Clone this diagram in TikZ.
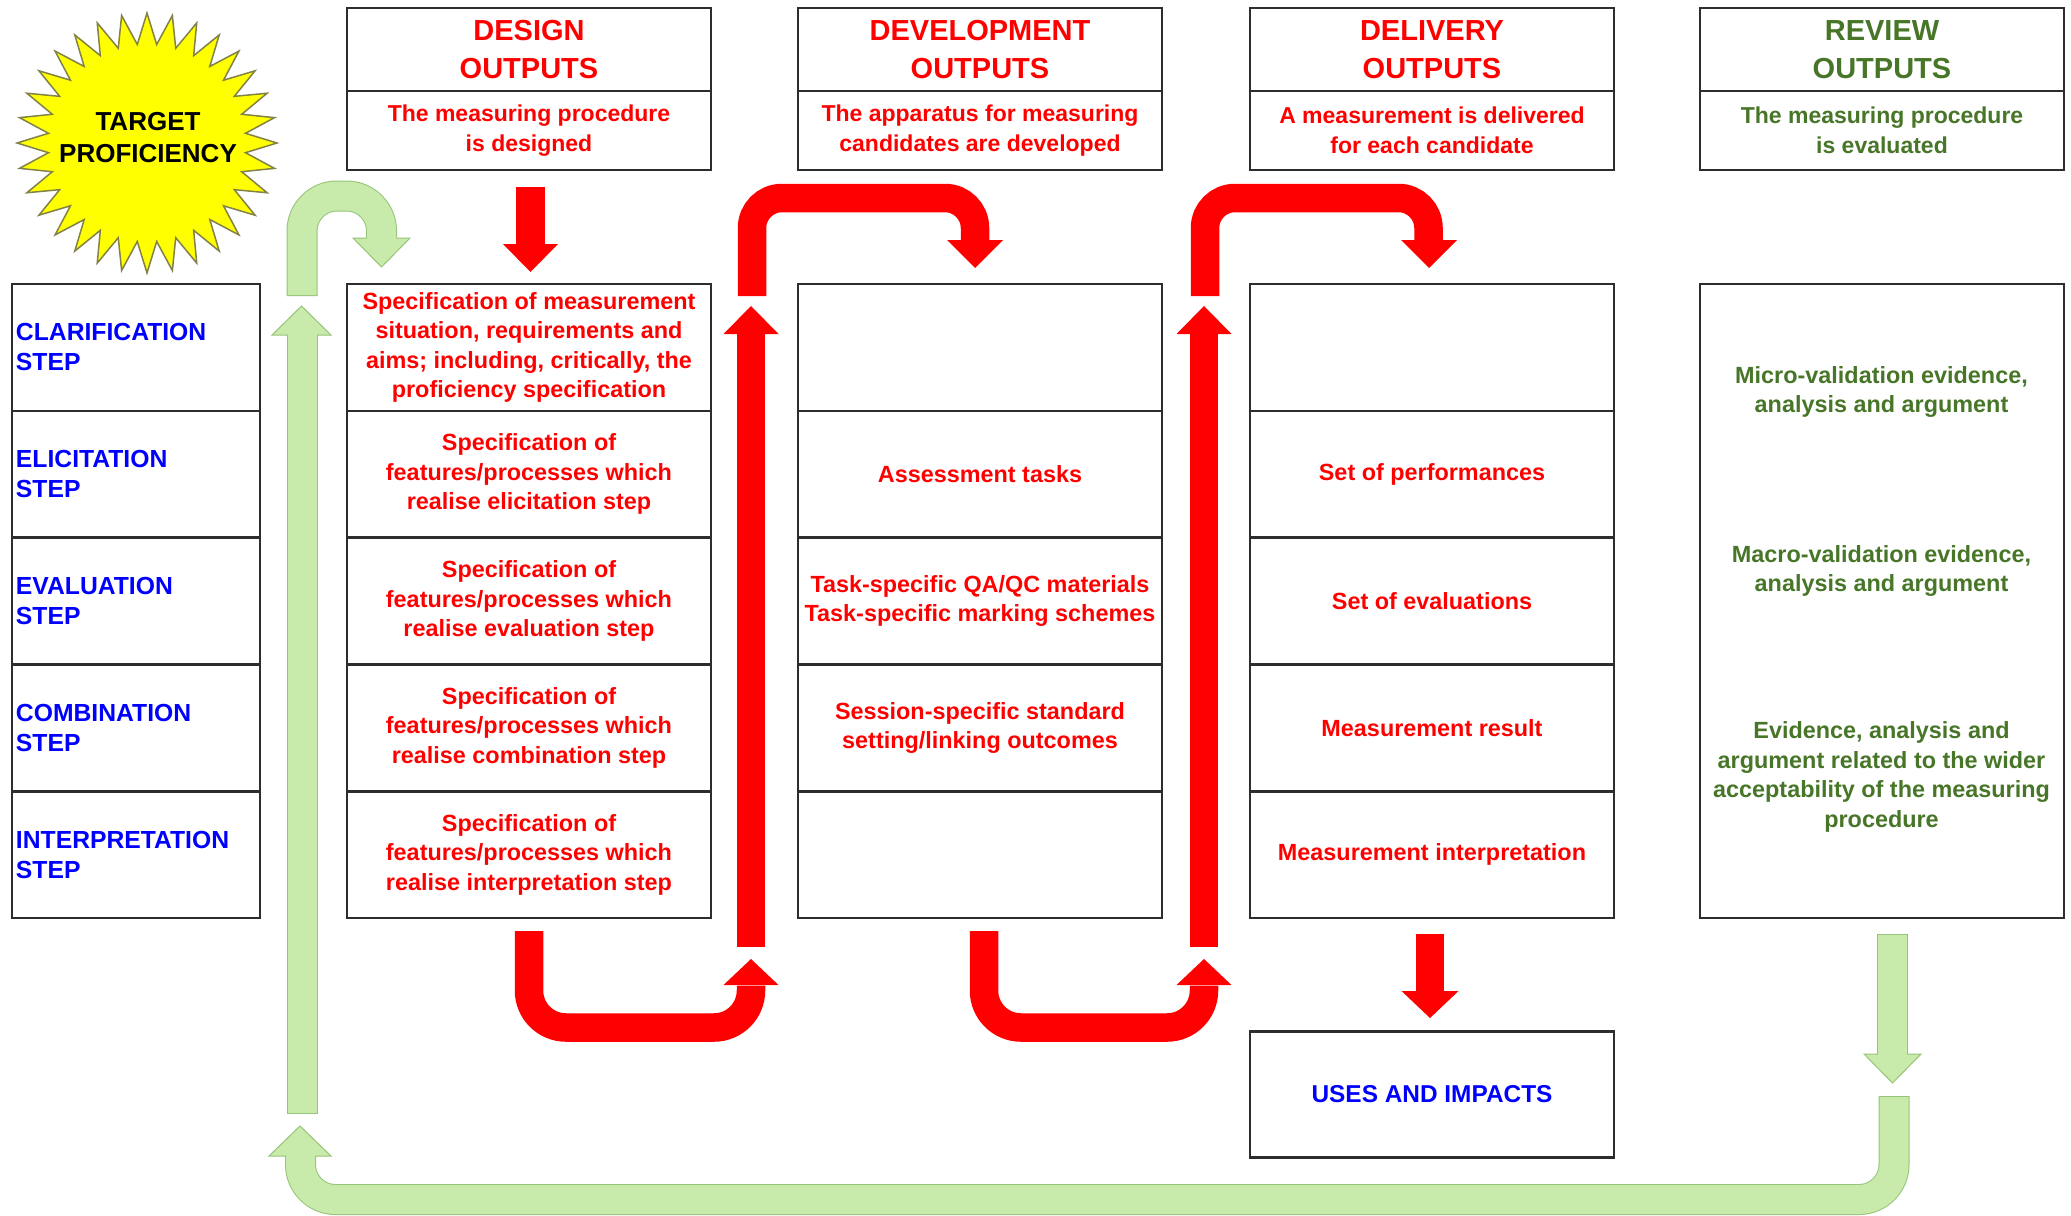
\documentclass[tikz,border=0pt]{standalone}
\usepackage{fontspec}
\setmainfont{Liberation Sans}
\usetikzlibrary{calc}
\definecolor{boxline}{RGB}{45,45,45}
\definecolor{txtred}{RGB}{255,0,0}
\definecolor{txtblue}{RGB}{0,0,255}
\definecolor{txtgreen}{RGB}{72,118,40}
\definecolor{gfill}{RGB}{200,234,170}
\definecolor{gline}{RGB}{150,196,120}
\definecolor{staryellow}{RGB}{255,255,0}
\definecolor{starline}{RGB}{130,130,70}
\definecolor{rfill}{RGB}{255,0,0}
\begin{document}
\begin{tikzpicture}[x=1pt,y=-1pt,
  bodyfont/.style={font=\bfseries\fontsize{23.4}{29.5}\selectfont},
  cell/.style={draw=boxline, line width=2.6pt, minimum width=364pt, minimum height=126.8pt,
    inner sep=0pt, outer sep=0pt, anchor=north west, align=center, text=txtred, bodyfont},
  hdr/.style={cell, minimum height=83pt, font=\bfseries\fontsize{29}{38}\selectfont},
  hsub/.style={cell, minimum height=79pt, font=\bfseries\fontsize{23}{29.5}\selectfont},
  stepcell/.style={draw=boxline, line width=2.6pt, text width=240pt, inner xsep=4pt, inner ysep=0pt,
    minimum height=126.8pt, outer sep=0pt, anchor=north west, align=left, text=txtblue,
    font=\bfseries\fontsize{24.7}{30}\selectfont},
  rtxt/.style={align=center, text=txtgreen, bodyfont, inner sep=0pt},
  rshaft/.style={draw=rfill, line width=28.5pt},
  rhead/.style={fill=rfill},
  gborder/.style={draw=gline, line width=31pt},
  gshaft/.style={draw=gfill, line width=29pt},
  ghead/.style={fill=gfill, draw=gline, line width=1pt, line join=miter},
]
\useasboundingbox (0,0) rectangle (2071,1215);
\fill[white] (0,0) rectangle (2071,1215);

% ---- star
\begin{scope}[shift={(147,143)}]
\draw[fill=staryellow, draw=starline, line width=1.5pt, line join=miter]
  (90:130) \foreach \i in {1,...,63}{ -- ({90+\i*5.625}:{ifthenelse(mod(\i,2)==0,130,99)}) } -- cycle;
\end{scope}
\node[align=center, font=\bfseries\fontsize{26}{32}\selectfont, text=black] (tp) at (148,138) {TARGET\\PROFICIENCY};

% ---- steps column
\node[stepcell] (s1) at (12,284) {CLARIFICATION\\STEP};
\node[stepcell] (s2) at (12,410.8) {ELICITATION\\STEP};
\node[stepcell] (s3) at (12,537.6) {EVALUATION\\STEP};
\node[stepcell] (s4) at (12,664.4) {COMBINATION\\STEP};
\node[stepcell] (s5) at (12,791.2) {INTERPRETATION\\STEP};

% ---- headers
\node[hdr] (dt) at (347,8) {DESIGN\\OUTPUTS};
\node[hsub] (ds) at (347,91) {The measuring procedure\\is designed};
\node[hdr] (vt) at (798,8) {DEVELOPMENT\\OUTPUTS};
\node[hsub] (vs) at (798,91) {The apparatus for measuring\\candidates are developed};
\node[hdr] (lt) at (1250,8) {DELIVERY\\OUTPUTS};
\node[hsub] (ls) at (1250,91) {A measurement is delivered\\for each candidate};
\node[hdr, text=txtgreen] (rt) at (1700,8) {REVIEW\\OUTPUTS};
\node[hsub, text=txtgreen] (rs) at (1700,91) {The measuring procedure\\is evaluated};

% ---- design column
\node[cell] (d1) at (347,284) {Specification of measurement\\situation, requirements and\\aims; including, critically, the\\proficiency specification};
\node[cell] (d2) at (347,410.8) {Specification of\\features/processes which\\realise elicitation step};
\node[cell] (d3) at (347,537.6) {Specification of\\features/processes which\\realise evaluation step};
\node[cell] (d4) at (347,664.4) {Specification of\\features/processes which\\realise combination step};
\node[cell] (d5) at (347,791.2) {Specification of\\features/processes which\\realise interpretation step};

% ---- development column
\node[cell] (v1) at (798,284) {};
\node[cell] (v2) at (798,410.8) {Assessment tasks};
\node[cell] (v3) at (798,537.6) {Task-specific QA/QC materials\\Task-specific marking schemes};
\node[cell] (v4) at (798,664.4) {Session-specific standard\\setting/linking outcomes};
\node[cell] (v5) at (798,791.2) {};

% ---- delivery column
\node[cell] (l1) at (1250,284) {};
\node[cell] (l2) at (1250,410.8) {Set of performances};
\node[cell] (l3) at (1250,537.6) {Set of evaluations};
\node[cell] (l4) at (1250,664.4) {Measurement result};
\node[cell] (l5) at (1250,791.2) {Measurement interpretation};

% ---- uses and impacts
\node[cell, minimum height=126pt, text=txtblue, font=\bfseries\fontsize{24.4}{30}\selectfont] (u) at (1250,1031.5) {USES AND IMPACTS};

% ---- review column
\node[cell, minimum height=634pt] (r) at (1700,284) {};
\node[rtxt] (r1) at (1881.5,392) {Micro-validation evidence,\\analysis and argument};
\node[rtxt] (r2) at (1881.5,571) {Macro-validation evidence,\\analysis and argument};
\node[rtxt] (r3) at (1881.5,777) {Evidence, analysis and\\argument related to the wider\\acceptability of the measuring\\procedure};

% ---- red arrows
% design header -> design body
\draw[rshaft] (530.5,187) -- (530.5,245);
\fill[rhead] (503,244) -- (558,244) -- (530.5,272) -- cycle;
% bottom U 1
\draw[rshaft, rounded corners=37pt] (529,931) -- (529,1027.5) -- (751,1027.5) -- (751,985.5);
\fill[rhead] (723.5,985) -- (778.5,985) -- (751,959) -- cycle;
% tall up 1
\draw[rshaft] (751,947) -- (751,333);
\fill[rhead] (723.5,334) -- (778.5,334) -- (751,306) -- cycle;
% top arc 1
\draw[rshaft, rounded corners=30pt] (752,296) -- (752,198) -- (975,198) -- (975,241);
\fill[rhead] (947,240) -- (1003,240) -- (975,268) -- cycle;
% bottom U 2
\draw[rshaft, rounded corners=37pt] (984,931) -- (984,1027.5) -- (1204,1027.5) -- (1204,985.5);
\fill[rhead] (1176.5,985) -- (1231.5,985) -- (1204,959) -- cycle;
% tall up 2
\draw[rshaft] (1204,947) -- (1204,333);
\fill[rhead] (1176.5,334) -- (1231.5,334) -- (1204,306) -- cycle;
% top arc 2
\draw[rshaft, rounded corners=30pt] (1205,296) -- (1205,198) -- (1428.5,198) -- (1428.5,241);
\fill[rhead] (1401,240) -- (1457,240) -- (1429,268) -- cycle;
% delivery -> uses
\draw[rshaft] (1430,934) -- (1430,992);
\fill[rhead] (1401.5,991) -- (1458.5,991) -- (1430,1018) -- cycle;

% ---- green arrows
% top-left arc
\draw[gborder, rounded corners=35pt] (302,296) -- (302,196) -- (381.5,196) -- (381.5,238);
\filldraw[ghead] (353,238) -- (410,238) -- (381.5,267) -- cycle;
\draw[gshaft, rounded corners=35pt] (302,295) -- (302,196) -- (381.5,196) -- (381.5,239.5);
% tall up
\draw[gborder] (302,1114) -- (302,335);
\filldraw[ghead] (272,335) -- (331,335) -- (301.5,306) -- cycle;
\draw[gshaft] (302,1113) -- (302,333.5);
% right down
\draw[gborder] (1892.5,934) -- (1892.5,1054);
\filldraw[ghead] (1864,1054) -- (1921,1054) -- (1892.5,1083) -- cycle;
\draw[gshaft] (1892.5,935) -- (1892.5,1055.5);
% bottom U
\draw[gborder, rounded corners=35pt] (1894,1096) -- (1894,1199.5) -- (300.5,1199.5) -- (300.5,1156);
\filldraw[ghead] (269,1156) -- (331,1156) -- (300,1126) -- cycle;
\draw[gshaft, rounded corners=35pt] (1894,1097) -- (1894,1199.5) -- (300.5,1199.5) -- (300.5,1154.5);
\end{tikzpicture}
\end{document}
